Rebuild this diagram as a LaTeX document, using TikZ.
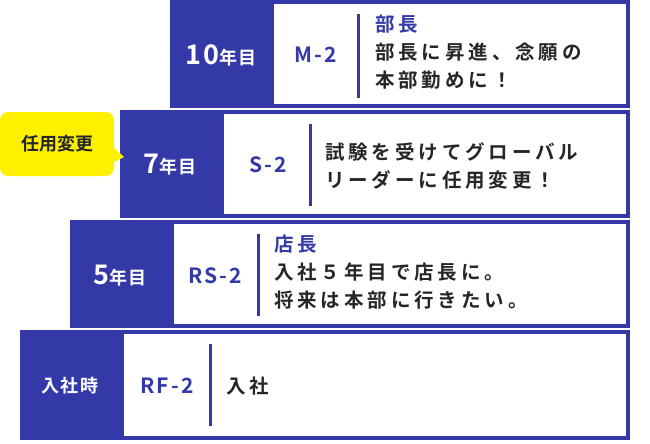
\documentclass[tikz,border=0pt]{standalone}
\usepackage{fontspec}
\setmainfont{Noto Sans CJK JP}[BoldFont={Noto Sans CJK JP Bold}]
\usetikzlibrary{positioning}
\definecolor{navy}{HTML}{333AA8}
\definecolor{callout}{HTML}{FFF000}
\tikzset{
  stage/.style={fill=navy,draw=none},
  card/.style={fill=white,draw=none},
  year/.style={text=white,font=\bfseries\fontsize{18}{18}\selectfont\addfontfeature{LetterSpace=6},inner sep=0pt},
  grade/.style={text=navy,font=\bfseries\fontsize{21}{21}\selectfont\addfontfeature{LetterSpace=10},inner sep=0pt},
  note/.style={anchor=west,font=\bfseries\fontsize{19.5}{28}\selectfont\addfontfeature{LetterSpace=20},align=left,inner sep=0pt,text=black!85},
  sep/.style={navy,line width=3pt}
}
\begin{document}
\begin{tikzpicture}[x=1pt,y=-1pt]
\useasboundingbox (0,0) rectangle (650,444);
% blue steps
\fill[stage] (170,0) rectangle (630,108);
\fill[stage] (120,110) rectangle (630,218);
\fill[stage] (70,220) rectangle (630,328);
\fill[stage] (20,330) rectangle (630,440);
% white cards
\fill[card] (274,4) rectangle (626,104);
\fill[card] (224,114) rectangle (626,214);
\fill[card] (174,224) rectangle (626,324);
\fill[card] (124,334) rectangle (626,436);
% years
\node[year] (y1) at (221,55) {{\fontsize{27}{27}\selectfont 10}年目};
\node[year] (y2) at (170,165) {{\fontsize{27}{27}\selectfont 7}年目};
\node[year] (y3) at (120,276) {{\fontsize{27}{27}\selectfont 5}年目};
\node[year] (y4) at (70,386) {入社時};
% grades
\node[grade] (g1) at (316,55) {M-2};
\node[grade] (g2) at (268,165) {S-2};
\node[grade] (g3) at (215,276) {RS-2};
\node[grade] (g4) at (167,386) {RF-2};
% separators
\draw[sep] (358,14) -- (358,98);
\draw[sep] (310,124) -- (310,206);
\draw[sep] (258,234) -- (258,316);
\draw[sep] (210,344) -- (210,426);
% notes
\node[note] (n1) at (375,52) {\textcolor{navy}{部長}\\部長に昇進、念願の\\本部勤めに！};
\node[note] (n2) at (325,166) {試験を受けてグローバル\\リーダーに任用変更！};
\node[note] (n3) at (274,272) {\textcolor{navy}{店長}\\入社５年目で店長に。\\将来は本部に行きたい。};
\node[note] (n4) at (226,386) {入社};
% callout
\fill[callout,rounded corners=8pt] (0,112) rectangle (114,176);
\fill[callout] (110,144) -- (124,157) -- (110,164) -- cycle;
\node[font=\bfseries\fontsize{18}{18}\selectfont,text=black!85] (c) at (57,144) {任用変更};
\end{tikzpicture}
\end{document}
